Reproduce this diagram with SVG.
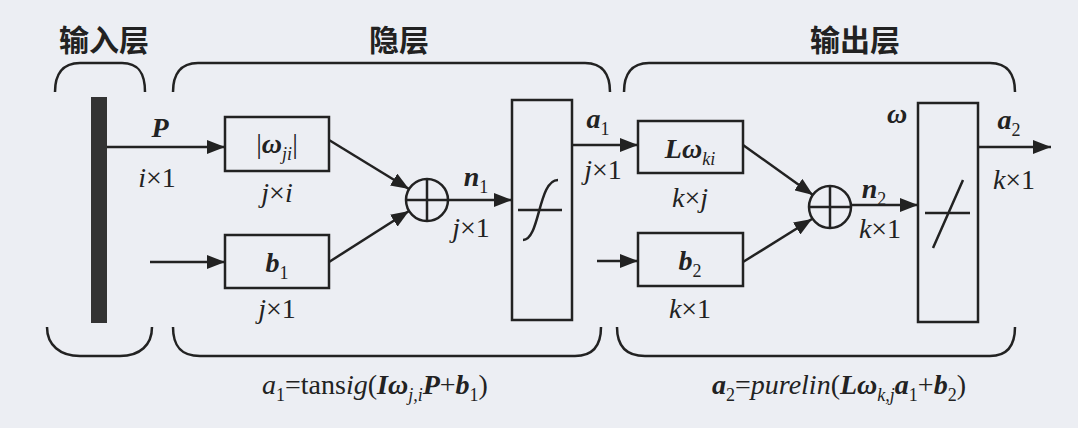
<svg xmlns="http://www.w3.org/2000/svg" width="1078" height="428" viewBox="0 0 1078 428">
<style>
.ln{fill:none;stroke:#222;stroke-width:2.5}
.bx{fill:none;stroke:#222;stroke-width:2.5}
.t{font-family:"Liberation Serif","Times New Roman",serif;font-size:28px;fill:#222}
.cn{font-family:"Noto Sans CJK SC",sans-serif;font-size:30px;font-weight:bold;fill:#222}
.bi{font-weight:bold;font-style:italic}
.it{font-style:italic}
.sb{font-size:18px}
</style>
<defs>
<marker id="ah" viewBox="0 0 18 14" refX="18" refY="7" markerWidth="18" markerHeight="14" markerUnits="userSpaceOnUse" orient="auto">
<path d="M0,0 L18,7 L0,14 Z" fill="#222"/>
</marker>
</defs>
<rect width="1078" height="428" fill="#eceef3"/>

<g id="titles">
<text class="cn" x="104" y="51" text-anchor="middle">输入层</text>
<text class="cn" x="399" y="51" text-anchor="middle">隐层</text>
<text class="cn" x="855" y="51" text-anchor="middle">输出层</text>
</g>

<g id="braces">
<path class="ln" d="M55,92 C55,75 62,63 80,63 L122,63 C140,63 145,75 145,92"/>
<path class="ln" d="M173,92 C173,75 180,63 198,63 L585,63 C603,63 610,75 610,92"/>
<path class="ln" d="M624,92 C624,75 631,63 649,63 L990,63 C1008,63 1015,75 1015,92"/>
<path class="ln" d="M47,327 C47,345 60,356 80,356 L120,356 C140,356 152,345 152,327"/>
<path class="ln" d="M173,327 C173,345 180,356 200,356 L575,356 C593,356 601,345 601,327"/>
<path class="ln" d="M617,327 C617,345 625,356 645,356 L990,356 C1008,356 1015,345 1015,327"/>
</g>

<g id="input">
<rect x="91" y="97" width="16" height="226" fill="#333"/>
</g>

<g id="w1">
<rect class="bx" x="225" y="117" width="104" height="54"/>
<text class="t" x="277" y="153" text-anchor="middle">|<tspan class="bi">ω</tspan><tspan class="it sb" dy="7">ji</tspan><tspan dy="-7">|</tspan></text>
<text class="t" x="277" y="202" text-anchor="middle"><tspan class="it">j</tspan>×<tspan class="it">i</tspan></text>
</g>

<g id="b1">
<rect class="bx" x="225" y="235" width="104" height="53"/>
<text class="t" x="277" y="272" text-anchor="middle"><tspan class="bi">b</tspan><tspan class="sb" dy="7">1</tspan></text>
<text class="t" x="277" y="318" text-anchor="middle"><tspan class="it">j</tspan>×1</text>
</g>

<g id="sum1">
<circle class="ln" cx="427" cy="200" r="21"/>
<path class="ln" d="M427,179 V221 M406,200 H448"/>
</g>

<g id="tansig">
<rect class="bx" x="512" y="100" width="60" height="220"/>
<path class="ln" d="M518,210 H562 M523,240 C540,240 538,180 558,180"/>
</g>

<g id="w2">
<rect class="bx" x="638" y="121" width="105" height="52"/>
<text class="t" x="690" y="158" text-anchor="middle"><tspan class="bi">Lω</tspan><tspan class="it sb" dy="7">ki</tspan></text>
<text class="t" x="690" y="207" text-anchor="middle"><tspan class="it">k</tspan>×<tspan class="it">j</tspan></text>
</g>

<g id="b2">
<rect class="bx" x="638" y="233" width="105" height="53"/>
<text class="t" x="690" y="270" text-anchor="middle"><tspan class="bi">b</tspan><tspan class="sb" dy="7">2</tspan></text>
<text class="t" x="690" y="318" text-anchor="middle"><tspan class="it">k</tspan>×1</text>
</g>

<g id="sum2">
<circle class="ln" cx="830" cy="207" r="21"/>
<path class="ln" d="M830,186 V228 M809,207 H851"/>
</g>

<g id="purelin">
<rect class="bx" x="918" y="103" width="60" height="219"/>
<path class="ln" d="M925,213 H970 M933,248 L963,180"/>
</g>

<g id="connectors">
<path class="ln" d="M107,147 H225" marker-end="url(#ah)"/>
<path class="ln" d="M150,262 H225" marker-end="url(#ah)"/>
<path class="ln" d="M329,140 L409,189" marker-end="url(#ah)"/>
<path class="ln" d="M329,262 L409,211" marker-end="url(#ah)"/>
<path class="ln" d="M448,200 H512" marker-end="url(#ah)"/>
<path class="ln" d="M572,145 H638" marker-end="url(#ah)"/>
<path class="ln" d="M597,261 H638" marker-end="url(#ah)"/>
<path class="ln" d="M743,145 L813,195" marker-end="url(#ah)"/>
<path class="ln" d="M743,262 L812,219" marker-end="url(#ah)"/>
<path class="ln" d="M851,205 H918" marker-end="url(#ah)"/>
<path class="ln" d="M978,147 H1051" marker-end="url(#ah)"/>
</g>

<g id="labels">
<text class="t bi" x="160" y="137" text-anchor="middle">P</text>
<text class="t" x="157" y="187" text-anchor="middle"><tspan class="it">i</tspan>×1</text>
<text class="t" x="476" y="186" text-anchor="middle"><tspan class="bi">n</tspan><tspan class="sb" dy="7">1</tspan></text>
<text class="t" x="471" y="237" text-anchor="middle"><tspan class="it">j</tspan>×1</text>
<text class="t" x="598" y="128" text-anchor="middle"><tspan class="bi">a</tspan><tspan class="sb" dy="7">1</tspan></text>
<text class="t" x="603" y="179" text-anchor="middle"><tspan class="it">j</tspan>×1</text>
<text class="t" x="874" y="198" text-anchor="middle"><tspan class="bi">n</tspan><tspan class="sb" dy="7">2</tspan></text>
<text class="t" x="880" y="238" text-anchor="middle"><tspan class="it">k</tspan>×1</text>
<text class="t bi" x="897" y="123" text-anchor="middle">ω</text>
<text class="t" x="1009" y="129" text-anchor="middle"><tspan class="bi">a</tspan><tspan class="sb" dy="7">2</tspan></text>
<text class="t" x="1014" y="189" text-anchor="middle"><tspan class="it">k</tspan>×1</text>
</g>

<g id="formulas">
<text class="t" x="262" y="394"><tspan class="it">a</tspan><tspan class="sb" dy="7">1</tspan><tspan dy="-7">=tans</tspan><tspan class="it">ig</tspan>(<tspan class="bi">Iω</tspan><tspan class="it sb" dy="7">j,i</tspan><tspan class="bi" dy="-7">P</tspan>+<tspan class="bi">b</tspan><tspan class="sb" dy="7">1</tspan><tspan dy="-7">)</tspan></text>
<text class="t" x="712" y="394"><tspan class="bi">a</tspan><tspan class="sb" dy="7">2</tspan><tspan dy="-7">=</tspan><tspan class="it">purelin</tspan>(<tspan class="bi">Lω</tspan><tspan class="it sb" dy="7">k,j</tspan><tspan class="bi" dy="-7">a</tspan><tspan class="sb" dy="7">1</tspan><tspan dy="-7">+</tspan><tspan class="bi">b</tspan><tspan class="sb" dy="7">2</tspan><tspan dy="-7">)</tspan></text>
</g>
</svg>
